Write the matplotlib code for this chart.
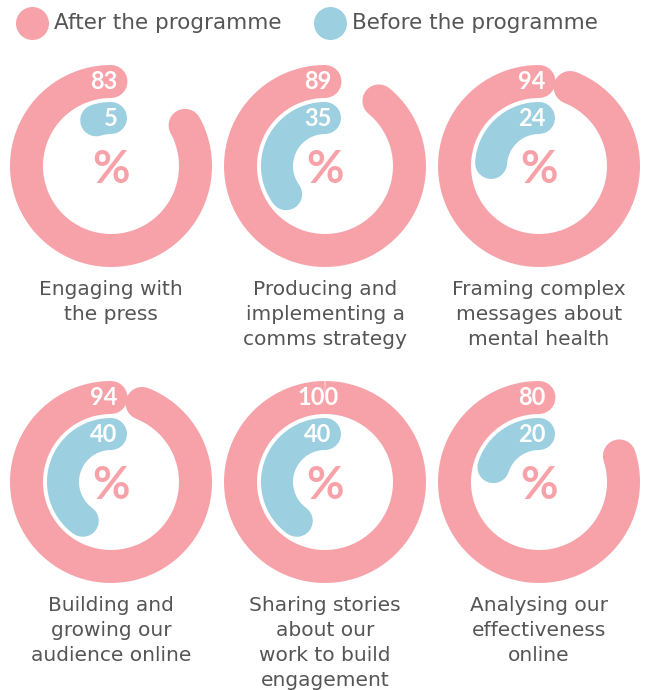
import numpy as np
import matplotlib
matplotlib.use("Agg")
import matplotlib.pyplot as plt
import matplotlib.patheffects as pe

categories = [
    "Engaging with\nthe press",
    "Producing and\nimplementing a\ncomms strategy",
    "Framing complex\nmessages about\nmental health",
    "Building and\ngrowing our\naudience online",
    "Sharing stories\nabout our\nwork to build\nengagement",
    "Analysing our\neffectiveness\nonline",
]
after_values = [83, 89, 94, 94, 100, 80]
before_values = [5, 35, 24, 40, 40, 20]
series_names = ["After the programme", "Before the programme"]

PINK = "#F7A2A9"
BLUE = "#9CCFE0"
GREY = "#555555"
series_colors = [PINK, BLUE]

W, H = 645, 690
DPI = 100
fig = plt.figure(figsize=(W / DPI, H / DPI), dpi=DPI)
px = 72 / DPI  # points per pixel

plt.rcParams['font.family'] = ['DejaVu Sans']

col_x = [111, 325, 539]
row_y = [166, 482]
half = 110
R_OUT, W_OUT = 84.5, 33
R_IN, W_IN = 48, 32

for i, (cat, a, b) in enumerate(zip(categories, after_values, before_values)):
    cx = col_x[i % 3]
    cy = row_y[i // 3]
    ax = fig.add_axes([(cx - half) / W, (H - cy - half) / H, 2 * half / W, 2 * half / H],
                      projection='polar')
    ax.set_theta_zero_location('N')
    ax.set_theta_direction(1)
    ax.set_ylim(0, half)
    ax.axis('off')

    th_a = np.linspace(0, 2 * np.pi * a / 100, 400)
    ax.plot(th_a, np.full_like(th_a, R_OUT), color=PINK, lw=W_OUT * px,
            solid_capstyle='butt' if a >= 100 else 'round')
    th_b = np.linspace(0, 2 * np.pi * b / 100, 400)
    ax.plot(th_b, np.full_like(th_b, R_IN), color=BLUE, lw=W_IN * px,
            solid_capstyle='round',
            path_effects=[pe.Stroke(linewidth=(W_IN + 5) * px, foreground='white',
                                    capstyle='round'),
                          pe.Normal()])

    ax.annotate(str(a), xy=(0, R_OUT), xytext=(-5, 0), textcoords='offset points',
                ha='center', va='center', color='white', fontsize=17,
                fontweight='bold', family='Lato')
    ax.annotate(str(b), xy=(0, R_IN), xytext=(-5 if b > 10 else 0, 0),
                textcoords='offset points',
                ha='center', va='center', color='white', fontsize=17,
                fontweight='bold', family='Lato')
    ax.annotate("%", xy=(0, 0), xytext=(0, -3), textcoords='offset points',
                ha='center', va='center', color=PINK, fontsize=33,
                fontweight='bold', family='Lato')

    fig.text(cx / W, (H - (cy + 114)) / H, cat, ha='center', va='top',
             fontsize=14.5, color=GREY, linespacing=1.39)

# legend drawn in a pixel-space overlay axes
lax = fig.add_axes([0, 0, 1, 1], zorder=-1)
lax.set_xlim(0, W)
lax.set_ylim(H, 0)
lax.axis('off')
leg_x = [32, 330]
for x, name, col in zip(leg_x, series_names, series_colors):
    lax.plot([x], [23], ls='none', marker='o', markersize=33 * px,
             markerfacecolor=col, markeredgecolor='none')
    lax.text(x + 22, 23, name, ha='left', va='center', fontsize=15.5, color=GREY)

fig.savefig("out.png", dpi=DPI)
